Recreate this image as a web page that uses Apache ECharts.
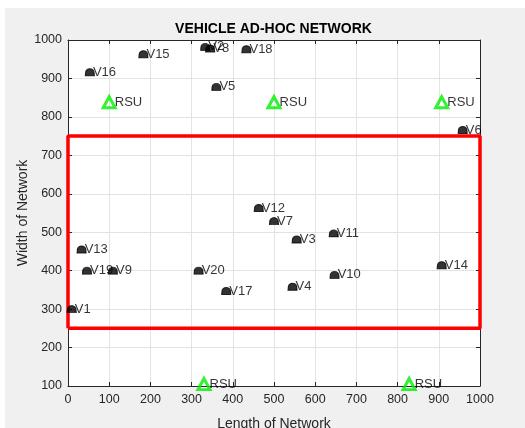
<!DOCTYPE html>
<html>
<head>
<meta charset="utf-8">
<script src="https://cdn.jsdelivr.net/npm/echarts@6/dist/echarts.min.js"></script>
<style>
  html, body { margin: 0; padding: 0; background: #ffffff; }
  #chart { width: 525px; height: 428px; }
</style>
</head>
<body>
<div id="chart"></div>
<script>
// Vehicle positions (length, width) and their names
var vehicleNames = ['V1','V2','V3','V4','V5','V6','V7','V8','V9','V10',
                    'V11','V12','V13','V14','V15','V16','V17','V18','V19','V20'];
var vehicleX = [9, 333, 555, 545, 360, 958, 500, 345, 109, 647,
                645, 463, 33, 907, 183, 53, 384, 433, 46, 317];
var vehicleY = [300, 982, 481, 358, 878, 766, 529, 978, 400, 389,
                497, 563, 455, 414, 963, 916, 347, 976, 400, 400];

// Road side units
var rsuX = [100, 500, 907, 330, 828];
var rsuY = [838, 838, 838, 105, 105];

// Region of interest (closed rectangle outline)
var regionX = [0, 1000, 1000, 0, 0];
var regionY = [250, 250, 750, 750, 250];

// Axis ticks
var xTicks = [0, 100, 200, 300, 400, 500, 600, 700, 800, 900, 1000];
var yTicks = [100, 200, 300, 400, 500, 600, 700, 800, 900, 1000];

var FONT = '"Liberation Sans", Arial, Helvetica, sans-serif';
var AXIS_COLOR = '#262626';

var vehicleData = vehicleNames.map(function (n, i) {
  return { name: n, value: [vehicleX[i], vehicleY[i]] };
});
var rsuData = rsuX.map(function (x, i) { return [x, rsuY[i]]; });
var regionData = regionX.map(function (x, i) { return [x, regionY[i]]; });

// small rounded "car" blob marker
var carPath = 'path://M50 0 C75 0 92 20 96 45 L100 100 L0 100 L4 45 C8 20 25 0 50 0 Z';

function boxAxis(position, lo, hi, step, showLabels, isX) {
  return {
    type: 'value',
    position: position,
    min: lo,
    max: hi,
    interval: step,
    axisLine: { show: true, onZero: false, lineStyle: { color: AXIS_COLOR, width: 1 } },
    axisTick: { show: true, inside: true, length: 4, lineStyle: { color: AXIS_COLOR } },
    splitLine: { show: showLabels, lineStyle: { color: '#e3e3e3', width: 1 } },
    axisLabel: {
      show: showLabels,
      color: AXIS_COLOR,
      fontFamily: FONT,
      fontSize: 12.5,
      margin: isX ? 7 : 6,
      formatter: function (v) { return String(v); }
    }
  };
}

var xMain = boxAxis('bottom', xTicks[0], xTicks[xTicks.length - 1], 100, true, true);
xMain.name = 'Length of Network';
xMain.nameLocation = 'middle';
xMain.nameGap = 31;
xMain.nameTextStyle = { color: AXIS_COLOR, fontFamily: FONT, fontSize: 14 };

var yMain = boxAxis('left', yTicks[0], yTicks[yTicks.length - 1], 100, true, false);
yMain.name = 'Width of Network';
yMain.nameLocation = 'middle';
yMain.nameGap = 38;
yMain.nameMoveOverlap = false;
yMain.nameTextStyle = { color: AXIS_COLOR, fontFamily: FONT, fontSize: 14 };

var option = {
  animation: false,
  backgroundColor: '#ffffff',
  graphic: [{
    type: 'rect',
    z: -10,
    silent: true,
    shape: { x: 5, y: 8, width: 520, height: 420 },
    style: { fill: '#f0f0f0' }
  }],
  title: {
    text: 'VEHICLE AD-HOC NETWORK',
    left: 268.5,
    textAlign: 'center',
    top: 17,
    textStyle: { color: '#000000', fontFamily: FONT, fontSize: 14, fontWeight: 'bold' }
  },
  grid: {
    left: 68, right: 45, top: 40, bottom: 42,
    containLabel: false,
    outerBoundsMode: 'none',
    show: true,
    backgroundColor: '#ffffff',
    borderWidth: 0
  },
  xAxis: [xMain, boxAxis('top', 0, 1000, 100, false, true)],
  yAxis: [yMain, boxAxis('right', 100, 1000, 100, false, false)],
  series: [
    {
      name: 'Region',
      type: 'line',
      data: regionData,
      clip: false,
      symbol: 'none',
      z: 3,
      lineStyle: { color: '#ff0000', width: 3.5 }
    },
    {
      name: 'RSU',
      type: 'scatter',
      data: rsuData,
      clip: false,
      symbol: 'triangle',
      symbolSize: [12, 11],
      z: 4,
      itemStyle: { color: 'transparent', borderColor: '#00ee00', borderWidth: 3 },
      label: {
        show: true,
        position: 'right',
        distance: -2,
        formatter: 'RSU',
        color: '#000000',
        fontFamily: FONT,
        fontSize: 13
      }
    },
    {
      name: 'Vehicles',
      type: 'scatter',
      data: vehicleData,
      clip: false,
      symbol: carPath,
      symbolSize: [9, 7],
      z: 5,
      itemStyle: { color: '#000000', borderColor: '#000000', borderWidth: 1 },
      label: {
        show: true,
        position: 'right',
        distance: -2,
        formatter: '{b}',
        color: '#000000',
        fontFamily: FONT,
        fontSize: 13
      }
    }
  ]
};

var chart = echarts.init(document.getElementById('chart'), null, { renderer: 'canvas' });
chart.setOption(option);
</script>
</body>
</html>
